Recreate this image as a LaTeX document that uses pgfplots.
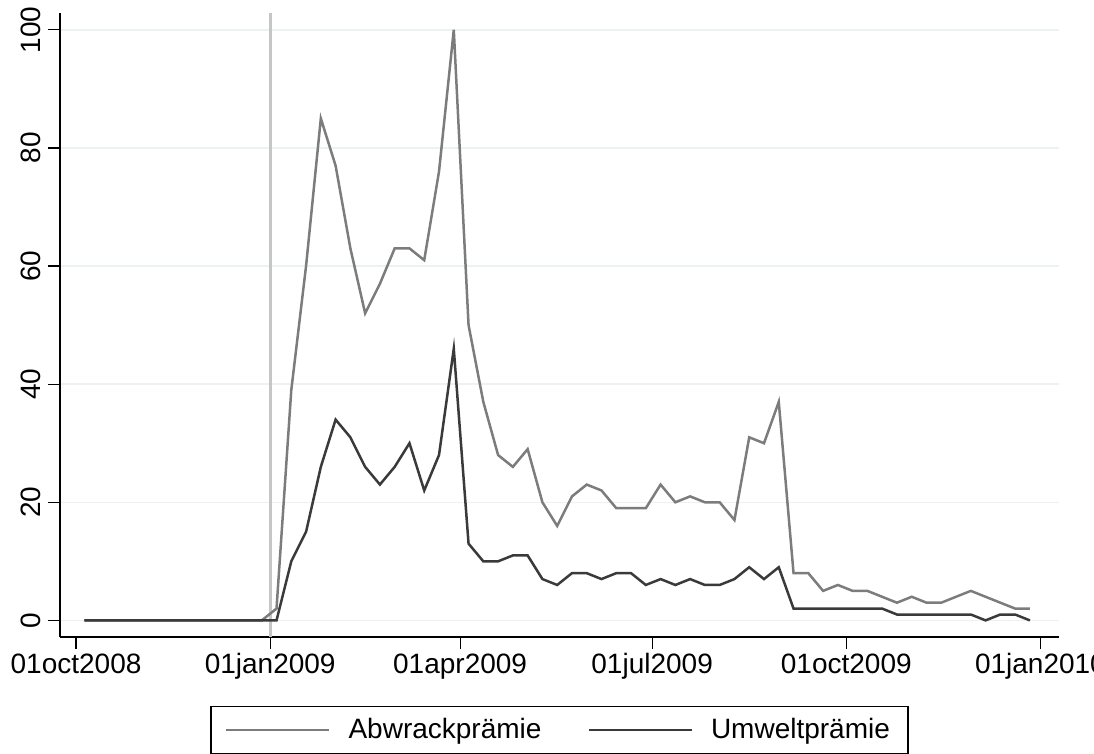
\documentclass[border=0pt]{standalone}
\usepackage{fontspec}
\setmainfont{Liberation Sans}
\usepackage{pgfplots}
\usepackage{pgfplotstable}
\pgfplotsset{compat=1.18}
\definecolor{abw}{HTML}{7C7C7C}
\definecolor{umw}{HTML}{3A3A3A}
\definecolor{vl}{HTML}{C6C6C6}
\definecolor{gridc}{HTML}{EAF2F3}
\pgfplotstableread{
x abw umw
4 0 0
11 0 0
18 0 0
25 0 0
32 0 0
39 0 0
46 0 0
53 0 0
60 0 0
67 0 0
74 0 0
81 0 0
88 0 0
95 2 0
102 39 10
109 60 15
116 85 26
123 77 34
130 63 31
137 52 26
144 57 23
151 63 26
158 63 30
165 61 22
172 76 28
179 100 46
186 50 13
193 37 10
200 28 10
207 26 11
214 29 11
221 20 7
228 16 6
235 21 8
242 23 8
249 22 7
256 19 8
263 19 8
270 19 6
277 23 7
284 20 6
291 21 7
298 20 6
305 20 6
312 17 7
319 31 9
326 30 7
333 37 9
340 8 2
347 8 2
354 5 2
361 6 2
368 5 2
375 5 2
382 4 2
389 3 1
396 4 1
403 3 1
410 3 1
417 4 1
424 5 1
431 4 0
438 3 1
445 2 1
452 2 0
}\data
\begin{document}
\begin{tikzpicture}
\begin{axis}[
  name=ax,
  scale only axis,
  width=499.5pt, height=312pt,
  xmin=-7.6, xmax=465.8,
  ymin=-2.81, ymax=102.85,
  axis x line*=bottom, axis y line*=left,
  axis line style={-, black, line width=0.6pt},
  xtick={0,92,182,273,365,457},
  xticklabels={01oct2008,01jan2009,01apr2009,01jul2009,01oct2009,01jan2010},
  ytick={0,20,40,60,80,100},
  tick align=outside,
  major tick length=6pt,
  tick style={black, line width=0.6pt},
  xtick pos=bottom, ytick pos=left,
  ymajorgrids,
  major grid style={gridc, line width=0.7pt},
  /pgf/number format/assume math mode=true,
  ticklabel style={font=\fontsize{14pt}{17pt}\selectfont},
  yticklabel style={rotate=90, anchor=south},
  xticklabel style={anchor=north, text height=0.73em, text depth=0.21em, yshift=-1.5pt},
  legend columns=2,
  legend style={at={(0.5,-0.110)}, anchor=north, draw=black, line width=0.6pt,
    font=\fontsize{14pt}{17pt}\selectfont, inner xsep=7pt, inner ysep=4pt,
    /tikz/every odd column/.append style={column sep=7pt},
    /tikz/every even column/.append style={column sep=21pt}},
  legend image code/.code={\draw[#1] (0pt,0pt) -- (51.5pt,0pt);},
]
\addplot[vl, line width=1.5pt, forget plot] coordinates {(92,-2.81) (92,102.85)};
\addplot[abw, line width=1.25pt] table[x=x, y=abw] {\data};
\addlegendentry{Abwrackprämie}
\addplot[umw, line width=1.25pt] table[x=x, y=umw] {\data};
\addlegendentry{Umweltprämie}
\end{axis}
\pgfresetboundingbox
\path[use as bounding box] ([xshift=-30pt,yshift=-58pt]ax.south west) rectangle ([xshift=17.5pt,yshift=6.5pt]ax.north east);
\end{tikzpicture}
\end{document}
